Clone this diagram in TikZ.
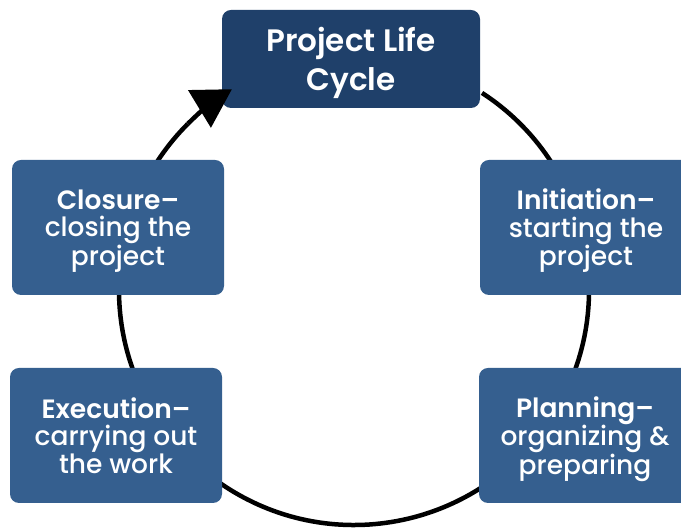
\documentclass[tikz,border=0pt]{standalone}
\usepackage{fontspec}
\setmainfont{Poppins}
\newfontfamily\demi{Poppins SemiBold}
\newfontfamily\medium{Poppins Medium}
\usetikzlibrary{arrows.meta, positioning}

\definecolor{titleblue}{RGB}{31,64,106}
\definecolor{phaseblue}{RGB}{53,95,143}

\newcommand{\phasetext}[3]{{\demi #1}\\#2\\#3}

\begin{document}
\begin{tikzpicture}[x=1pt, y=1pt,
  phase/.style={fill=phaseblue, rounded corners=9pt, text=white, align=center,
    minimum width=212pt, minimum height=135pt, inner sep=0pt, text depth=0pt,
    font=\fontsize{26.5}{27.5}\selectfont\medium},
  title/.style={phase, fill=titleblue, minimum width=258pt, minimum height=98pt,
    font=\fontsize{31}{39}\selectfont\demi},
  ring/.style={line width=4.5pt}]

  \useasboundingbox (0,0) rectangle (681,529);
  \coordinate (c) at (354,239);

  % the cycle, behind the boxes
  \draw[ring] ([shift={(57:235)}]c) arc[start angle=57, end angle=-225, radius=235];

  \node[title] (plc) at (351,470) {Project Life\\Cycle};
  \node[phase] (init) at (586,301.5) {\phasetext{Initiation–}{starting the}{project}};
  \node[phase] (plan) at (585,93.5) {\phasetext{Planning–}{organizing \&}{preparing}};
  \node[phase] (exec) at (116,93.5) {\phasetext{Execution–}{carrying out}{the work}};
  \node[phase] (close) at (118,301.5) {\phasetext{Closure–}{closing the}{project}};

  % arrow head back into the title box
  \draw[ring, -{Triangle[length=38pt, width=43pt]}] ([shift={(135:235)}]c)
    arc[start angle=135, end angle=121.3, radius=235];
\end{tikzpicture}
\end{document}
